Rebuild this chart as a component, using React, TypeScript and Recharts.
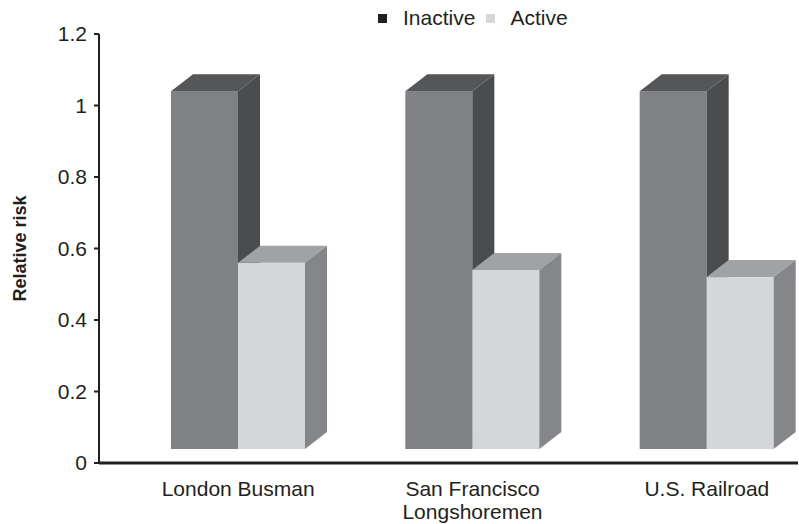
import React from 'react';
import { BarChart, Bar, XAxis, YAxis, Legend } from 'recharts';

const CATEGORIES = ['London Busman', 'San Francisco\nLongshoremen', 'U.S. Railroad'];
const INACTIVE = [1.04, 1.04, 1.04];
const ACTIVE = [0.56, 0.54, 0.52];
const Y_TICKS = [0, 0.2, 0.4, 0.6, 0.8, 1, 1.2];

const data = CATEGORIES.map((name, i) => ({ name, inactive: INACTIVE[i], active: ACTIVE[i] }));

const FONT = '"Liberation Sans", Arial, Helvetica, sans-serif';
const INK = '#231f20';

// depth of the fake 3D extrusion and the gap between floor and axis line
const DX = 22;
const DY = 17;
const LIFT = 14;

const makeBox = (front: string, top: string, side: string) => (props: any) => {
  const { x, y, width, height } = props;
  if (height == null || width == null) return null;
  const bottom = y + height - LIFT;
  const r = x + width;
  return (
    <g>
      <rect x={x} y={y} width={width} height={bottom - y} fill={front} />
      <polygon
        points={`${x},${y} ${x + DX},${y - DY} ${r + DX},${y - DY} ${r},${y}`}
        fill={top}
      />
      <polygon
        points={`${r},${y} ${r + DX},${y - DY} ${r + DX},${bottom - DY} ${r},${bottom}`}
        fill={side}
      />
    </g>
  );
};

const InactiveBox = makeBox('#808184', '#555658', '#4b4c4e');
const ActiveBox = makeBox('#d5d6d8', '#a1a2a4', '#858689');

const CategoryTick = (props: any) => {
  const { x, y, payload } = props;
  const lines = String(payload.value).split('\n');
  return (
    <text x={x} y={y} textAnchor="middle" fill={INK} fontFamily={FONT} fontSize={21}>
      {lines.map((line, i) => (
        <tspan key={i} x={x} dy={i === 0 ? 25 : 23}>
          {line}
        </tspan>
      ))}
    </text>
  );
};

const renderLegend = () => (
  <div style={{ display: 'flex', alignItems: 'center', fontFamily: FONT, fontSize: 21, color: INK }}>
    <span style={{ width: 9, height: 9, background: INK, display: 'inline-block', marginRight: 16 }} />
    <span style={{ marginRight: 11 }}>Inactive</span>
    <span style={{ width: 9, height: 9, background: '#d5d6d8', display: 'inline-block', marginRight: 15 }} />
    <span>Active</span>
  </div>
);

export default function App() {
  return (
    <div style={{ position: 'absolute', left: 0, top: 0, background: '#fff' }}>
      <BarChart
        width={799}
        height={524}
        data={data}
        barSize={67}
        barGap={0}
        margin={{ top: 34, right: 1, bottom: 11, left: 39 }}
      >
        <XAxis
          dataKey="name"
          height={50}
          padding={{ left: 22, right: -26 }}
          axisLine={{ stroke: INK, strokeWidth: 3 }}
          tickLine={false}
          tick={<CategoryTick />}
          interval={0}
        />
        <YAxis
          width={60}
          domain={[0, 1.2]}
          ticks={Y_TICKS}
          interval={0}
          axisLine={{ stroke: INK, strokeWidth: 2 }}
          tickLine={{ stroke: INK, strokeWidth: 2 }}
          tickSize={5}
          tickMargin={7}
          tick={{ fill: INK, fontFamily: FONT, fontSize: 21 }}
          label={{
            content: ({ viewBox }: any) => (
              <text
                x={20}
                y={viewBox.y + viewBox.height / 2}
                transform={`rotate(-90 20 ${viewBox.y + viewBox.height / 2})`}
                textAnchor="middle"
                dominantBaseline="central"
                fill={INK}
                fontFamily={FONT}
                fontSize={18}
                fontWeight="bold"
              >
                Relative risk
              </text>
            ),
          }}
        />
        {/* middle alignment keeps the legend from reserving space above the plot */}
        <Legend
          layout="horizontal"
          verticalAlign="middle"
          content={renderLegend}
          wrapperStyle={{ top: 6, left: 378, width: 'auto' }}
        />
        <Bar dataKey="inactive" name="Inactive" fill="#808184" shape={InactiveBox} isAnimationActive={false} />
        <Bar dataKey="active" name="Active" fill="#d5d6d8" shape={ActiveBox} isAnimationActive={false} />
      </BarChart>
    </div>
  );
}
